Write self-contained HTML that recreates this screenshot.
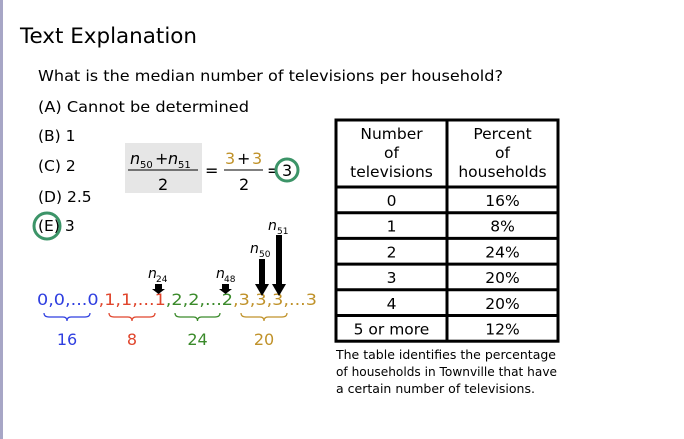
<!DOCTYPE html>
<html><head><meta charset="utf-8"><style>
html,body{margin:0;padding:0;background:#fff;width:684px;height:439px;overflow:hidden}
svg{display:block;font-family:"DejaVu Sans","Liberation Sans",sans-serif}
</style></head><body>
<svg id="s" width="684" height="439" viewBox="0 0 684 439">
<rect x="0" y="0" width="3" height="439" fill="#a7a6c6"/>
<text x="20" y="43" font-size="21" textLength="177" lengthAdjust="spacingAndGlyphs" fill="#000">Text Explanation</text>
<text x="38" y="81" font-size="15.5" textLength="465" lengthAdjust="spacingAndGlyphs">What is the median number of televisions per household?</text>
<text x="38" y="112" font-size="15.5" textLength="211" lengthAdjust="spacingAndGlyphs">(A) Cannot be determined</text>
<text x="38" y="141" font-size="15.5">(B) 1</text>
<text x="38" y="171" font-size="15.5">(C) 2</text>
<text x="38" y="202" font-size="15.5">(D) 2.5</text>
<text x="38" y="231" font-size="15.5">(E) 3</text>
<circle cx="47" cy="226" r="13" fill="none" stroke="#3c9468" stroke-width="3"/>
<g>
<rect x="125" y="143" width="77" height="50" fill="#e6e6e6"/>
<text x="130" y="164" font-size="16" font-style="italic">n</text><text x="140" y="168" font-size="10">50</text>
<text x="155" y="164" font-size="16">+</text>
<text x="168" y="164" font-size="16" font-style="italic">n</text><text x="178" y="168" font-size="10">51</text>
<line x1="128" y1="170" x2="198" y2="170" stroke="#000" stroke-width="1"/>
<text x="158" y="190" font-size="16">2</text>
<text x="205" y="176" font-size="16">=</text>
<text x="225" y="164" font-size="16" fill="#c0922a">3</text><text x="237" y="164" font-size="16">+</text><text x="252" y="164" font-size="16" fill="#c0922a">3</text>
<line x1="224" y1="170" x2="263" y2="170" stroke="#000" stroke-width="1"/>
<text x="239" y="190" font-size="16">2</text>
<text x="267" y="176" font-size="16">=</text>
<circle cx="287" cy="170" r="11" fill="#fff" stroke="#3c9468" stroke-width="3"/>
<text x="282" y="176" font-size="16">3</text>
</g>
<g>
<text x="37" y="305" font-size="16" textLength="280" lengthAdjust="spacingAndGlyphs"><tspan fill="#2f3fe0">0,0,...0</tspan><tspan fill="#e0452c">,1,1,...1</tspan><tspan fill="#3a8a2a">,2,2,...2</tspan><tspan fill="#c0922a">,3,3,3,...3</tspan></text>
</g>
<g id="braces"></g>
<g>
<text x="148" y="278" font-size="14" font-style="italic">n</text><text x="156" y="282" font-size="9">24</text>
<rect x="155" y="284" width="7" height="5" fill="#000"/><polygon points="152,289 165,289 158.5,294" fill="#000"/>
<text x="216" y="278" font-size="14" font-style="italic">n</text><text x="224" y="282" font-size="9">48</text>
<rect x="222" y="284" width="7" height="5" fill="#000"/><polygon points="219,289 232,289 225.5,294" fill="#000"/>
<text x="250" y="253" font-size="14" font-style="italic">n</text><text x="259" y="257" font-size="9">50</text>
<rect x="259" y="259" width="6" height="26" fill="#000"/><polygon points="255,284 269,284 262,296" fill="#000"/>
<text x="268" y="230" font-size="14" font-style="italic">n</text><text x="277" y="234" font-size="9">51</text>
<rect x="276" y="235" width="6" height="50" fill="#000"/><polygon points="272,284 286,284 279,296" fill="#000"/>
</g>
<g id="tbl"></g>
<text font-size="12.5" lengthAdjust="spacingAndGlyphs"><tspan x="336" y="359" textLength="220" lengthAdjust="spacingAndGlyphs">The table identifies the percentage</tspan><tspan x="336" y="376" textLength="221" lengthAdjust="spacingAndGlyphs">of households in Townville that have</tspan><tspan x="336" y="393" textLength="199" lengthAdjust="spacingAndGlyphs">a certain number of televisions.</tspan></text>
</svg>
<script>
const categories=["0","1","2","3","4","5 or more"];
const percents=[16,8,24,20,20,12];
const braceCounts=["16","8","24","20"];
const braceColors=["#2f3fe0","#e0452c","#3a8a2a","#c0922a"];
const NS="http://www.w3.org/2000/svg";
function mk(t,a,p){const e=document.createElementNS(NS,t);for(const k in a)e.setAttribute(k,a[k]);p.appendChild(e);return e;}
const tbl=document.getElementById('tbl');
const X0=336,X1=558,XM=447,Y0=120,HH=67,RH=25.7;
const Yend=Y0+HH+RH*categories.length;
const hdr=[["Number","of","televisions"],["Percent","of","households"]];
hdr.forEach((lines,c)=>{const cx=c?(XM+X1)/2:(X0+XM)/2;lines.forEach((l,i)=>{const t=mk('text',{x:cx,y:Y0+19+i*19,'font-size':15.5,'text-anchor':'middle'},tbl);t.textContent=l;

});});
categories.forEach((c,i)=>{const y=Y0+HH+RH*i;
const ln=mk('line',{x1:X0,x2:X1,y1:y,y2:y,stroke:'#000','stroke-width':3},tbl);


const a=mk('text',{x:(X0+XM)/2,y:y+19,'font-size':15.5,'text-anchor':'middle'},tbl);a.textContent=c;


const b=mk('text',{x:(XM+X1)/2,y:y+19,'font-size':15.5,'text-anchor':'middle'},tbl);b.textContent=percents[i]+'%';

});
const box=mk('rect',{x:X0,y:Y0,width:X1-X0,height:Yend-Y0,fill:'none',stroke:'#000','stroke-width':3},tbl);


const cl=mk('line',{x1:XM,x2:XM,y1:Y0,y2:Yend,stroke:'#000','stroke-width':3},tbl);


const br=document.getElementById('braces');
const bx=[[44,90],[109,155],[175,220],[241,287]];
braceCounts.forEach((n,i)=>{const [a,b]=bx[i],m=(a+b)/2,y=313;
const p=mk('path',{d:`M${a},${y} q0,4 5,4 L${m-4},${y+4} q4,0 4,4 q0,-4 4,-4 L${b-5},${y+4} q5,0 5,-4`,fill:'none',stroke:braceColors[i],'stroke-width':1.2},br);


const t=mk('text',{x:m,y:345,'font-size':16,'text-anchor':'middle',fill:braceColors[i]},br);t.textContent=n;

});
</script>
</body></html>
